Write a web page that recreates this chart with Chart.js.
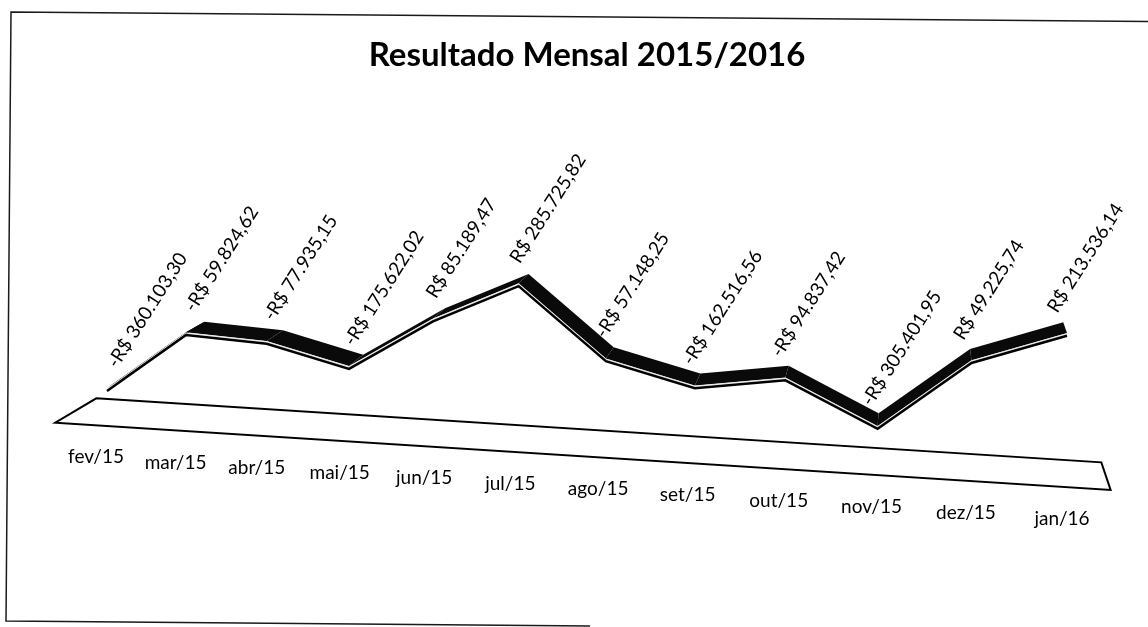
<!DOCTYPE html>
<html lang="pt-BR">
<head>
<meta charset="utf-8">
<title>Resultado Mensal 2015/2016</title>
<script src="https://cdn.jsdelivr.net/npm/chart.js@4.4.0/dist/chart.umd.min.js"></script>
<style>
  html, body { margin: 0; padding: 0; background: #fff; }
  #wrap { width: 1148px; height: 627px; position: relative; }
</style>
</head>
<body>
<div id="wrap"><canvas id="resultado"></canvas></div>
<script>
/* monthly result (R$), feb/2015 .. jan/2016 */
const MONTHS = ['fev/15', 'mar/15', 'abr/15', 'mai/15', 'jun/15', 'jul/15',
                'ago/15', 'set/15', 'out/15', 'nov/15', 'dez/15', 'jan/16'];
const RESULTS = [-360103.30, -59824.62, -77935.15, -175622.02, 85189.47, 285725.82,
                 -57148.25, -162516.56, -94837.42, -305401.95, 49225.74, 213536.14];
const VALUE_MIN = -400000;
const VALUE_MAX = 400000;

// fake 3d view: floor tilt, x foreshortening, vanishing point for depth
const view = {
  skew: 0.0637,
  bend: 0.104,
  vp: { x: 916, y: -90 },
  ribbon: 0.025,
  floor: 0.05
};

const FONT = 'Lato, "Open Sans", sans-serif';

function fmtBRL(v) {
  const [int, dec] = Math.abs(v).toFixed(2).split('.');
  return (v < 0 ? '-' : '') + 'R$ ' + int.replace(/\B(?=(\d{3})+(?!\d))/g, '.') + ',' + dec;
}

// flat chart pixel -> tilted view pixel
function project(chart, x, y) {
  const a = chart.chartArea;
  const w = a.right - a.left;
  const u = (x - a.left) / w;
  const sx = a.left + w * (u - view.bend * u * (1 - u));
  return { x: sx, y: y + view.skew * (sx - a.left) };
}

// move a point t of the way to the vanishing point (negative = towards viewer)
function toward(p, t) {
  return { x: p.x + t * (view.vp.x - p.x), y: p.y + t * (view.vp.y - p.y) };
}

function poly(ctx, pts) {
  ctx.beginPath();
  pts.forEach((p, i) => i ? ctx.lineTo(p.x, p.y) : ctx.moveTo(p.x, p.y));
  ctx.closePath();
}

const frame = {
  id: 'frame',
  beforeDraw(chart) {
    const ctx = chart.ctx;
    ctx.save();
    ctx.fillStyle = '#fff';
    ctx.fillRect(0, 0, chart.width, chart.height);
    ctx.strokeStyle = '#1a1a1a';
    ctx.lineWidth = 1.5;
    ctx.beginPath();
    ctx.moveTo(1150, 21.6);
    ctx.lineTo(11, 12);
    ctx.lineTo(6, 621);
    ctx.lineTo(590, 625.9);
    ctx.stroke();
    ctx.restore();
  }
};

const ribbon3d = {
  id: 'ribbon3d',
  afterDatasetsUpdate(chart) {
    // put the line points on the tilted floor
    chart.getDatasetMeta(0).data.forEach(pt => {
      const p = project(chart, pt.x, pt.y);
      pt.x = p.x;
      pt.y = p.y;
    });
  },
  beforeDatasetsDraw(chart) {
    const ctx = chart.ctx;
    const a = chart.chartArea;
    const pts = chart.getDatasetMeta(0).data;

    // floor slab
    const yFloor = chart.scales.y.getPixelForValue(VALUE_MIN);
    const bl = project(chart, a.left - 12, yFloor);
    const br = project(chart, a.right + 31, yFloor);
    const fl = toward(bl, -view.floor);
    const fr = toward(br, -view.floor);
    ctx.save();
    poly(ctx, [bl, br, fr, fl]);
    ctx.fillStyle = '#fff';
    ctx.fill();
    ctx.lineWidth = 2;
    ctx.strokeStyle = '#000';
    ctx.lineJoin = 'miter';
    ctx.stroke();

    // ribbon top faces
    ctx.fillStyle = '#0a0a0a';
    for (let i = 0; i < pts.length - 1; i++) {
      const p0 = { x: pts[i].x, y: pts[i].y - 2.8 };
      const p1 = { x: pts[i + 1].x, y: pts[i + 1].y - 2.8 };
      poly(ctx, [p0, p1, toward(p1, view.ribbon), toward(p0, view.ribbon)]);
      ctx.fill();
    }
    // light edge between top and front faces
    ctx.beginPath();
    pts.forEach((p, i) => i ? ctx.lineTo(p.x, p.y - 2) : ctx.moveTo(p.x, p.y - 2));
    ctx.strokeStyle = '#e8e8e8';
    ctx.lineWidth = 1.1;
    ctx.stroke();
    ctx.restore();
  },
  afterDatasetsDraw(chart) {
    const ctx = chart.ctx;
    const a = chart.chartArea;
    const pts = chart.getDatasetMeta(0).data;
    const values = chart.data.datasets[0].data;
    const yFloor = chart.scales.y.getPixelForValue(VALUE_MIN);
    const fl = toward(project(chart, a.left - 12, yFloor), -view.floor);
    const fr = toward(project(chart, a.right + 31, yFloor), -view.floor);
    const frontY = x => fl.y + (fr.y - fl.y) * (x - fl.x) / (fr.x - fl.x);

    ctx.save();
    ctx.fillStyle = '#000';
    pts.forEach((pt, i) => {
      const u = i / (pts.length - 1);
      // value labels, slanted
      ctx.save();
      ctx.translate(pt.x + 5 - 20 * u, pt.y - 25);
      ctx.rotate(-57.5 * Math.PI / 180);
      ctx.font = '19px ' + FONT;
      ctx.textAlign = 'left';
      ctx.textBaseline = 'middle';
      ctx.fillText(fmtBRL(values[i]), 0, 0);
      ctx.restore();

      // month labels under the floor
      const lx = pt.x - 11 + 6 * u;
      ctx.font = '19px ' + FONT;
      ctx.textAlign = 'center';
      ctx.textBaseline = 'middle';
      ctx.fillText(chart.data.labels[i], lx, frontY(lx) + 32);
    });
    ctx.restore();
  }
};

document.addEventListener('DOMContentLoaded', () => {
  const ctx = document.getElementById('resultado').getContext('2d');
  new Chart(ctx, {
    type: 'line',
    data: {
      labels: MONTHS,
      datasets: [{
        label: 'Resultado',
        data: RESULTS,
        borderColor: '#000',
        borderWidth: 2.5,
        pointRadius: 0,
        tension: 0,
        fill: false,
        clip: false
      }]
    },
    options: {
      responsive: true,
      maintainAspectRatio: false,
      animation: false,
      events: [],
      layout: { autoPadding: false, padding: { left: 107, right: 81, top: 0, bottom: 228 } },
      scales: {
        x: { type: 'category', display: false, offset: false },
        y: { display: false, min: VALUE_MIN, max: VALUE_MAX }
      },
      plugins: {
        legend: { display: false },
        tooltip: { enabled: false },
        title: {
          display: true,
          text: 'Resultado Mensal 2015/2016',
          color: '#000',
          font: { family: FONT, size: 33, weight: 'bold' },
          padding: { top: 36, bottom: 161.1 }
        }
      }
    },
    plugins: [frame, ribbon3d]
  });
});
</script>
</body>
</html>
